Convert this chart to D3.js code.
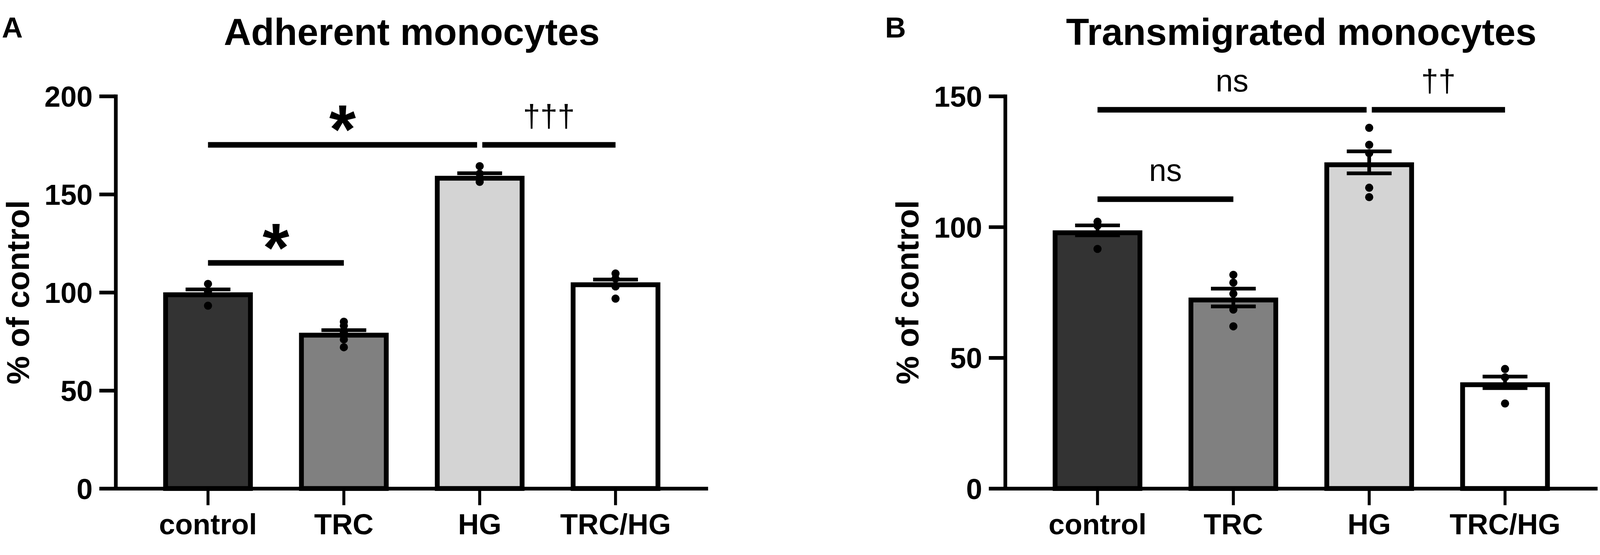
<!DOCTYPE html>
<head>
    <title>Adherent and transmigrated monocytes</title>
    <meta charset="utf-8">
    <style>
        html, body { margin: 0; padding: 0; width: 100%; height: 100%; overflow: hidden; background: #fff; }
        #chart { width: 100%; height: 100%; }
        svg text { font-family: "Liberation Sans", Arial, sans-serif; fill: #000; }
    </style>
</head>
<body>
<div id="chart"></div>

<script src="https://d3js.org/d3.v7.min.js"></script>
<script>

    // categories shared by both panels
    var groups = ["control", "TRC", "HG", "TRC/HG"];
    var barColors = ["#333333", "#808080", "#d4d4d4", "#ffffff"];

    // panel A - adherent monocytes
    var adhMean = [100, 79.4, 159.4, 105.1];
    var adhSem = [1.5, 1.3, 1.3, 1.4];
    var adhPoints = [
        [104.3, 100.5, 93.2],
        [85, 83, 79.5, 76, 72],
        [164.3, 160.5, 157.5, 156.3],
        [109.6, 107, 103, 96.8]
    ];
    var adhTicks = [0, 50, 100, 150, 200];
    var adhSig = [
        {from: 0, to: 2, y: 175.2, label: "*"},
        {from: 2, to: 3, y: 175.2, label: "†††"},
        {from: 0, to: 1, y: 115, label: "*"}
    ];

    // panel B - transmigrated monocytes
    var trMean = [98.7, 73.0, 124.7, 40.6];
    var trSem = [1.9, 3.4, 4.2, 2.2];
    var trPoints = [
        [102, 100.5, 91.6],
        [81.7, 78.7, 74.5, 68.4, 62],
        [137.9, 131.4, 128.2, 115, 111.4],
        [45.7, 42.5, 32.5]
    ];
    var trTicks = [0, 50, 100, 150];
    var trSig = [
        {from: 0, to: 2, y: 144.8, label: "ns"},
        {from: 2, to: 3, y: 144.8, label: "††"},
        {from: 0, to: 1, y: 110.6, label: "ns"}
    ];

    var W = 4317, H = 1420;

    // scale to whatever the viewport is, keeping the 4317x1420 drawing space
    var svg = d3.select("#chart").append("svg")
        .attr("width", "100%")
        .attr("height", "100%")
        .attr("viewBox", "0 0 " + W + " " + H)
        .attr("preserveAspectRatio", "xMidYMid meet")
        .style("display", "block");

    svg.append("rect").attr("width", W).attr("height", H).attr("fill", "#fff");

    function drawPanel(ox, letter, title, means, sems, points, ticks, sig){

        var axisX = 312, axisEnd = 1910, yTop = 221, yBottom = 1279;
        var g = svg.append("g").attr("transform", "translate(" + ox + ",0)");

        var xScale = d3.scaleBand()
            .domain(groups)
            .range([axisX, axisEnd])
            .paddingInner(0.34)
            .paddingOuter(0.35);

        var yScale = d3.scaleLinear()
            .domain([0, d3.max(ticks)])
            .range([yBottom, yTop]);

        var bw = xScale.bandwidth();
        var sw = 13;
        function cx(i){ return xScale(groups[i]) + bw / 2; }

        // bars, border drawn inside the bar like prism does
        g.selectAll(".bar").data(means).enter().append("rect")
            .attr("class", "bar")
            .attr("x", function(d, i){ return xScale(groups[i]) + sw / 2; })
            .attr("width", bw - sw)
            .attr("y", function(d){ return yScale(d) + sw / 2; })
            .attr("height", function(d){ return yScale(0) - yScale(d) - sw / 2; })
            .attr("fill", function(d, i){ return barColors[i]; })
            .attr("stroke", "#000")
            .attr("stroke-width", sw);

        // error bars (mean +/- sem)
        var capW = bw / 2;
        means.forEach(function(m, i){
            var x = cx(i);
            g.append("line")
                .attr("x1", x).attr("x2", x)
                .attr("y1", yScale(m - sems[i])).attr("y2", yScale(m + sems[i]))
                .attr("stroke", "#000").attr("stroke-width", 10);
            [m - sems[i], m + sems[i]].forEach(function(v){
                g.append("line")
                    .attr("x1", x - capW / 2).attr("x2", x + capW / 2)
                    .attr("y1", yScale(v)).attr("y2", yScale(v))
                    .attr("stroke", "#000").attr("stroke-width", 10);
            });
        });

        // individual points
        points.forEach(function(arr, i){
            g.selectAll(".pt" + i).data(arr).enter().append("circle")
                .attr("cx", cx(i))
                .attr("cy", function(d){ return yScale(d); })
                .attr("r", 11)
                .attr("fill", "#000");
        });

        // y axis
        var yAxis = g.append("g")
            .attr("transform", "translate(" + axisX + ",0)")
            .call(d3.axisLeft(yScale).tickValues(ticks).tickSize(44).tickSizeOuter(0).tickPadding(18));
        yAxis.select(".domain").attr("stroke-width", 10).attr("stroke-linecap", "square");
        yAxis.selectAll(".tick line").attr("stroke-width", 10);
        yAxis.selectAll(".tick text")
            .attr("font-size", 78).attr("font-weight", "bold")
            .attr("dy", "0.36em");

        // x axis
        var xAxis = g.append("g")
            .attr("transform", "translate(0," + yBottom + ")")
            .call(d3.axisBottom(xScale).tickSize(45).tickSizeOuter(0).tickPadding(23));
        xAxis.select(".domain").attr("stroke-width", 10);
        xAxis.selectAll(".tick line").attr("stroke-width", 8);
        xAxis.selectAll(".tick text")
            .attr("font-size", 78).attr("font-weight", "bold");

        // significance lines
        sig.forEach(function(s){
            var x1 = cx(s.from), x2 = cx(s.to);
            // leave a small gap where two lines on the same level meet
            sig.forEach(function(o){
                if(o === s || o.y !== s.y) return;
                if(o.from === s.to) x2 -= 7;
                if(o.to === s.from) x1 += 7;
            });
            var ly = yScale(s.y);
            g.append("line")
                .attr("x1", x1).attr("x2", x2)
                .attr("y1", ly).attr("y2", ly)
                .attr("stroke", "#000").attr("stroke-width", 15);

            var t = g.append("text")
                .attr("x", (x1 + x2) / 2)
                .attr("text-anchor", "middle")
                .text(s.label);
            if(s.label === "*"){
                t.attr("font-size", 185).attr("font-weight", "bold").attr("y", ly + 22);
            } else {
                t.attr("font-size", 84).attr("y", ly - 49);
            }
        });

        // titles
        g.append("text")
            .attr("x", (axisX + axisEnd) / 2).attr("y", 83)
            .attr("text-anchor", "middle")
            .attr("font-size", 102).attr("font-weight", "bold")
            .text(title);

        g.append("text")
            .attr("x", letter === "A" ? 5 : -12).attr("y", 63)
            .attr("font-size", 78).attr("font-weight", "bold")
            .text(letter);

        g.append("text")
            .attr("transform", "translate(78," + ((yTop + yBottom) / 2) + ") rotate(-90)")
            .attr("text-anchor", "middle")
            .attr("font-size", 86).attr("font-weight", "bold")
            .text("% of control");
    }

    drawPanel(0, "A", "Adherent monocytes", adhMean, adhSem, adhPoints, adhTicks, adhSig);
    drawPanel(2400, "B", "Transmigrated monocytes", trMean, trSem, trPoints, trTicks, trSig);

</script>
</body>
